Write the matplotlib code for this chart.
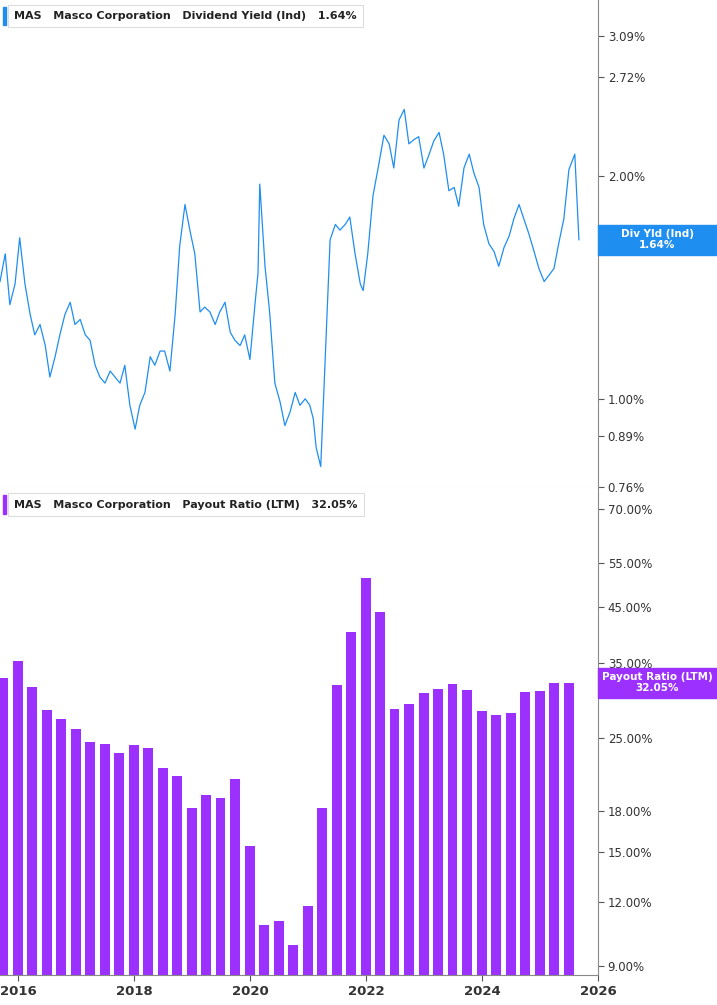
import datetime as dt

import matplotlib.pyplot as plt
import matplotlib.dates as mdates
from matplotlib.ticker import FixedLocator, NullLocator, NullFormatter

# dividend yield (%) at roughly monthly steps
yield_years = [
    2015.69, 2015.78, 2015.86, 2015.95, 2016.03, 2016.12, 2016.21, 2016.29, 2016.38, 2016.47,
    2016.55, 2016.64, 2016.72, 2016.81, 2016.90, 2016.98, 2017.07, 2017.16, 2017.24, 2017.33,
    2017.41, 2017.50, 2017.59, 2017.67, 2017.76, 2017.84, 2017.93, 2018.02, 2018.10, 2018.19,
    2018.28, 2018.36, 2018.45, 2018.53, 2018.62, 2018.71, 2018.79, 2018.88, 2018.97, 2019.05,
    2019.14, 2019.22, 2019.31, 2019.40, 2019.48, 2019.57, 2019.66, 2019.74, 2019.83, 2019.91,
    2020.00, 2020.09, 2020.14, 2020.17, 2020.26, 2020.34, 2020.43, 2020.52, 2020.60, 2020.69,
    2020.78, 2020.86, 2020.95, 2021.03, 2021.09, 2021.14, 2021.17, 2021.22, 2021.38, 2021.47,
    2021.55, 2021.64, 2021.72, 2021.81, 2021.90, 2021.95, 2022.03, 2022.12, 2022.22, 2022.31,
    2022.40, 2022.48, 2022.57, 2022.66, 2022.74, 2022.83, 2022.91, 2023.00, 2023.09, 2023.17,
    2023.26, 2023.34, 2023.43, 2023.52, 2023.60, 2023.69, 2023.78, 2023.86, 2023.95, 2024.03,
    2024.12, 2024.21, 2024.29, 2024.38, 2024.47, 2024.55, 2024.64, 2024.72, 2024.81, 2024.90,
    2024.98, 2025.07, 2025.16, 2025.24, 2025.33, 2025.41, 2025.50, 2025.60, 2025.67,
]
yield_pct = [
    1.44, 1.57, 1.34, 1.43, 1.65, 1.43, 1.30, 1.22, 1.26, 1.18,
    1.07, 1.14, 1.22, 1.30, 1.35, 1.26, 1.28, 1.22, 1.20, 1.11,
    1.07, 1.05, 1.09, 1.07, 1.05, 1.11, 0.98, 0.91, 0.98, 1.02,
    1.14, 1.11, 1.16, 1.16, 1.09, 1.30, 1.61, 1.83, 1.68, 1.57,
    1.31, 1.33, 1.31, 1.26, 1.31, 1.35, 1.23, 1.20, 1.18, 1.22,
    1.13, 1.35, 1.48, 1.95, 1.51, 1.31, 1.05, 0.99, 0.92, 0.96,
    1.02, 0.98, 1.00, 0.98, 0.94, 0.86, 0.84, 0.81, 1.64, 1.72,
    1.69, 1.72, 1.76, 1.57, 1.43, 1.40, 1.57, 1.88, 2.07, 2.27,
    2.21, 2.05, 2.38, 2.46, 2.21, 2.24, 2.26, 2.05, 2.14, 2.23,
    2.29, 2.14, 1.91, 1.93, 1.82, 2.05, 2.14, 2.02, 1.93, 1.72,
    1.62, 1.58, 1.51, 1.60, 1.66, 1.75, 1.83, 1.75, 1.67, 1.58,
    1.50, 1.44, 1.47, 1.50, 1.63, 1.75, 2.04, 2.14, 1.64,
]

# payout ratio (LTM, %), one bar per quarter end 2015 Q3 .. 2025 Q2
payout_pct = [
    32.8, 35.4, 31.5, 28.4, 27.2, 26.0, 24.6, 24.4, 23.4, 24.2,
    23.9, 21.9, 21.1, 18.3, 19.4, 19.1, 20.8, 15.4, 10.8, 11.0,
    9.9, 11.8, 18.3, 31.8, 40.3, 51.3, 44.0, 28.5, 29.2, 30.6,
    31.2, 31.9, 31.0, 28.3, 27.7, 28.0, 30.8, 30.9, 32.1, 32.05,
]

yield_ticks = [0.76, 0.89, 1.00, 2.00, 2.72, 3.09]
payout_ticks = [9, 12, 15, 18, 25, 35, 45, 55, 70]

BLUE = "#1f8ef1"
PURPLE = "#9b30ff"
GRID = "#d9d9d9"


def frac_year_to_date(y: float) -> dt.date:
    year = int(y)
    start = dt.date(year, 1, 1)
    days = (dt.date(year + 1, 1, 1) - start).days
    return start + dt.timedelta(days=round((y - year) * days))


def quarter_ends(n: int) -> list[dt.date]:
    out = []
    year, q = 2015, 3
    for _ in range(n):
        month = q * 3
        nxt = dt.date(year + (month == 12), month % 12 + 1, 1)
        out.append(nxt - dt.timedelta(days=1))
        q += 1
        if q == 5:
            q, year = 1, year + 1
    return out


def style_axis(ax, ticks, fmt):
    ax.set_yscale("log")
    ax.yaxis.tick_right()
    ax.yaxis.set_major_locator(FixedLocator(ticks))
    ax.yaxis.set_minor_locator(NullLocator())
    ax.yaxis.set_minor_formatter(NullFormatter())
    ax.set_yticklabels([fmt.format(t) for t in ticks])
    ax.tick_params(axis="y", length=4, color="#555555", labelsize=8.5, labelcolor="#333333", pad=3)
    for side in ("top", "left"):
        ax.spines[side].set_visible(False)
    ax.spines["right"].set_color("#888888")
    ax.spines["bottom"].set_color(GRID)


def legend_box(fig, y, color, label, value):
    fig.text(0.02, y, f"MAS   Masco Corporation   {label}   {value}", fontsize=8,
             fontweight="bold", color="#222222", va="center", ha="left",
             bbox=dict(boxstyle="square,pad=0.55", fc="white", ec="#dddddd", lw=0.8))
    fig.add_artist(plt.Rectangle((0.004, y - 0.009), 0.004, 0.018, transform=fig.transFigure,
                                 color=color, zorder=5))


def side_tag(fig, ax, value, color, lines):
    y = ax.transAxes.inverted().transform(ax.transData.transform((0, value)))[1]
    fig_y = ax.get_position().y0 + y * ax.get_position().height
    h = 0.03
    fig.add_artist(plt.Rectangle((0.834, fig_y - h / 2), 0.166, h, transform=fig.transFigure,
                                 color=color, zorder=5))
    fig.text(0.917, fig_y, lines, fontsize=7.5, fontweight="bold", color="white", ha="center",
             va="center", linespacing=1.1, zorder=6)


def main() -> None:
    fig = plt.figure(figsize=(7.17, 10.05), dpi=100)
    ax1 = fig.add_axes([0.0, 0.5154, 0.834, 0.4846])
    ax2 = fig.add_axes([0.0, 0.0299, 0.834, 0.4855])

    xmin = frac_year_to_date(2015.69)
    xmax = frac_year_to_date(2026.0)

    dates = [frac_year_to_date(y) for y in yield_years]
    ax1.plot(dates, yield_pct, color=BLUE, lw=0.9)
    ax1.set_ylim(0.76, 3.457)
    style_axis(ax1, yield_ticks, "{:.2f}%")
    ax1.set_xlim(xmin, xmax)
    ax1.set_xticks([])

    qdates = quarter_ends(len(payout_pct))
    ax2.bar(qdates, payout_pct, width=62, color=PURPLE, align="center")
    ax2.set_ylim(8.64, 77.2)
    style_axis(ax2, payout_ticks, "{:.2f}%")
    ax2.set_xlim(xmin, xmax)
    ax2.spines["bottom"].set_color("#888888")
    ax2.xaxis.set_major_locator(mdates.YearLocator(2))
    ax2.xaxis.set_major_formatter(mdates.DateFormatter("%Y"))
    ax2.tick_params(axis="x", labelsize=9.5, labelcolor="#333333", length=4, color="#555555")
    for lab in ax2.get_xticklabels():
        lab.set_fontweight("bold")

    legend_box(fig, 0.984, BLUE, "Dividend Yield (Ind)", "1.64%")
    legend_box(fig, 0.498, PURPLE, "Payout Ratio (LTM)", "32.05%")
    side_tag(fig, ax1, 1.64, BLUE, "Div Yld (Ind)\n1.64%")
    side_tag(fig, ax2, 32.05, PURPLE, "Payout Ratio (LTM)\n32.05%")

    fig.savefig("out.png", dpi=100)
    plt.close(fig)


if __name__ == "__main__":
    main()
